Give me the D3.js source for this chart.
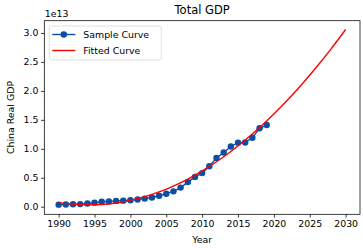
<!DOCTYPE html>
<html>
<head>
<meta charset="utf-8">
<script src="https://cdn.jsdelivr.net/npm/d3@7"></script>
<style>
  body { margin: 0; background: #fff; }
  text { font-family: "DejaVu Sans", sans-serif; fill: #000; }
</style>
</head>
<body>
<div id="chart"></div>
<script>
// Sample data (units of 1e13)
const years = d3.range(1990, 2020);
const gdp = [0.036, 0.038, 0.042, 0.045, 0.055, 0.07, 0.085, 0.092, 0.1, 0.105,
             0.112, 0.125, 0.14, 0.16, 0.19, 0.225, 0.265, 0.33, 0.425, 0.515,
             0.58, 0.70, 0.84, 0.935, 1.04, 1.105, 1.11, 1.19, 1.355, 1.41];

// Fitted curve
const fitYears = [1990, 1992, 1994, 1996, 1998, 2000, 2002, 2004, 2006, 2008, 2010,
                  2012, 2014, 2016, 2018, 2020, 2022, 2024, 2026, 2028, 2030];
const fitValues = [0.075, 0.044, 0.032, 0.038, 0.064, 0.109, 0.173, 0.255, 0.357, 0.478, 0.618,
                   0.776, 0.954, 1.151, 1.367, 1.60, 1.855, 2.128, 2.42, 2.73, 3.06];

const xTicks = d3.range(1990, 2031, 5);
const yTicks = [0, 0.5, 1.0, 1.5, 2.0, 2.5, 3.0];

const width = 363, height = 248;
const margin = {top: 20.7, right: 3, bottom: 33.7, left: 44.3};
const w = width - margin.left - margin.right;
const h = height - margin.top - margin.bottom;

const svg = d3.select("#chart")
    .append("svg")
    .attr("width", width)
    .attr("height", height);

const g = svg.append("g")
    .attr("transform", `translate(${margin.left},${margin.top})`);

// Scales with matplotlib style 5% margins
const x = d3.scaleLinear().domain([1988, 2032]).range([0, w]);
const y = d3.scaleLinear().domain([-0.131, 3.212]).range([h, 0]);

// X axis
const xAxis = g.append("g")
    .attr("transform", `translate(0,${h})`)
    .call(d3.axisBottom(x).tickValues(xTicks).tickFormat(d3.format("d")).tickSize(3.3).tickPadding(2.5));
// Y axis
const yAxis = g.append("g")
    .call(d3.axisLeft(y).tickValues(yTicks).tickFormat(d3.format(".1f")).tickSize(3.3).tickPadding(2.5));

[xAxis, yAxis].forEach(a => {
    a.select(".domain").remove();
    a.selectAll("line").attr("stroke", "#000").attr("stroke-width", 0.75);
    a.selectAll("text").style("font-size", "9.4px").style("font-family", "DejaVu Sans");
});

// frame
g.append("rect")
    .attr("width", w)
    .attr("height", h)
    .attr("fill", "none")
    .attr("stroke", "#000")
    .attr("stroke-width", 0.75);

// Sample line + markers
const line = d3.line().x((d, i) => x(years[i])).y(d => y(d));
g.append("path")
    .datum(gdp)
    .attr("d", line)
    .attr("fill", "none")
    .attr("stroke", "#0a4ea6")
    .attr("stroke-width", 1.4);

g.selectAll("circle.pt")
    .data(gdp)
    .join("circle")
    .attr("class", "pt")
    .attr("cx", (d, i) => x(years[i]))
    .attr("cy", d => y(d))
    .attr("r", 3.2)
    .attr("fill", "#0a4ea6");

// Fitted curve
const fitLine = d3.line()
    .x((d, i) => x(fitYears[i]))
    .y(d => y(d))
    .curve(d3.curveMonotoneX);
g.append("path")
    .datum(fitValues)
    .attr("d", fitLine)
    .attr("fill", "none")
    .attr("stroke", "#ff0000")
    .attr("stroke-width", 1.4);

// Title and labels
svg.append("text")
    .attr("x", margin.left + w / 2)
    .attr("y", 14.3)
    .attr("text-anchor", "middle")
    .style("font-size", "11.5px")
    .text("Total GDP");

svg.append("text")
    .attr("x", margin.left + 0.5)
    .attr("y", 17)
    .style("font-size", "9.4px")
    .text("1e13");

svg.append("text")
    .attr("x", margin.left + w / 2)
    .attr("y", 242.7)
    .attr("text-anchor", "middle")
    .style("font-size", "9.4px")
    .text("Year");

svg.append("text")
    .attr("transform", `translate(14,${margin.top + h / 2}) rotate(-90)`)
    .attr("text-anchor", "middle")
    .style("font-size", "9.4px")
    .text("China Real GDP");

// Legend
const legend = g.append("g").attr("transform", "translate(5,5.3)");
legend.append("rect")
    .attr("width", 112)
    .attr("height", 34)
    .attr("rx", 2)
    .attr("fill", "#fff")
    .attr("fill-opacity", 0.8)
    .attr("stroke", "#d6d6d6")
    .attr("stroke-width", 0.75);

const entries = [
    {label: "Sample Curve", color: "#0a4ea6", marker: true},
    {label: "Fitted Curve", color: "#ff0000", marker: false}
];
entries.forEach((e, i) => {
    const yy = 8.5 + i * 16;
    legend.append("line")
        .attr("x1", 3).attr("x2", 26)
        .attr("y1", yy).attr("y2", yy)
        .attr("stroke", e.color)
        .attr("stroke-width", 1.4);
    if (e.marker) {
        legend.append("circle")
            .attr("cx", 14.5).attr("cy", yy).attr("r", 3.2)
            .attr("fill", e.color);
    }
    legend.append("text")
        .attr("x", 34)
        .attr("y", yy + 3.4)
        .style("font-size", "9.4px")
        .text(e.label);
});
</script>
</body>
</html>
